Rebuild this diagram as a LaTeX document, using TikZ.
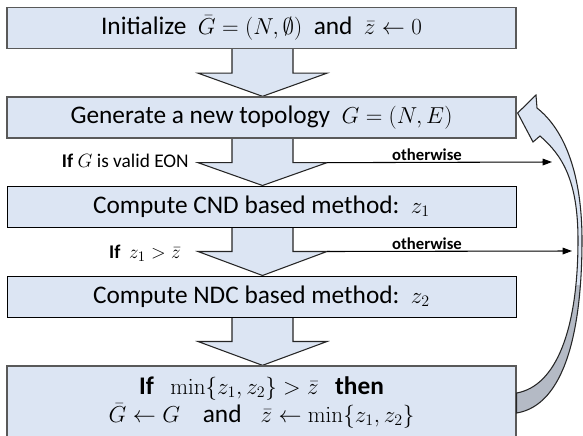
\documentclass[tikz,border=0pt]{standalone}
\usepackage[no-math]{fontspec}
\setmainfont{Carlito}
\usetikzlibrary{arrows.meta,calc,backgrounds}
\DeclareMathSizes{19}{17.8}{13}{10}
\DeclareMathSizes{14.5}{14.5}{11}{9}
\definecolor{boxfill}{RGB}{220,229,243}
\definecolor{tailgray}{RGB}{180,186,197}
\begin{document}
\begin{tikzpicture}[x=0.75pt,y=-0.75pt,
  box/.style={draw=black!65, line width=1pt, fill=boxfill, minimum width=381.75pt,
    minimum height=30.75pt, inner sep=0pt, font=\fontsize{19}{22}\selectfont},
  darkbox/.style={box, draw=black, line width=0.75pt},
  barrow/.style={draw=black!85, line width=0.8pt, fill=boxfill, line join=miter},
  cond/.style={font=\fontsize{14.5}{16}\selectfont, anchor=east, inner sep=0pt},
  oth/.style={font=\bfseries\fontsize{12.5}{14}\selectfont, anchor=south, inner sep=0.6pt},
  thinarrow/.style={line width=0.8pt, -{Triangle[length=7pt,width=5pt]}},
  bandline/.style={draw=black!85, line width=0.8pt, line join=miter}]
\useasboundingbox (0,0) rectangle (583,436);
\clip (0,0) rectangle (583,436);

% boxes
\node[box] (b1) at (261.5,28) {Initialize\ \ $\bar G=(N,\emptyset)$\ \ and\ \ $\bar z\leftarrow 0$};
\node[box] (b2) at (261.5,117.5) {Generate a new topology\ \ $G=(N,E)$};
\node[darkbox] (b3) at (261.5,206.5) {Compute CND based method:\ \ $z_1$};
\node[darkbox] (b4) at (261.5,296.5) {Compute NDC based method:\ \ $z_2$};
\node[box, minimum height=60pt] (b5) at (261.5,406) {};
\node[font=\fontsize{19}{21}\selectfont, align=center, inner sep=0pt] (b5t) at (261.5,402)
  {\textbf{If}\hspace{0.65em}$\min\{z_1,z_2\}>\bar z$\hspace{0.65em}\textbf{then}\\
   $\bar G\leftarrow G$\hspace{0.9em}and\hspace{0.75em}$\bar z\leftarrow\min\{z_1,z_2\}$};

% block arrows
\begin{scope}[on background layer]
\foreach \a/\b in {b1/b2,b2/b3,b3/b4,b4/b5} {
  \draw[barrow] ($(\a.south)+(-29.5,0)$) -- ++(0,24) -- ++(-34,0)
     -- ($(\b.north)+(1,0)$) -- ($(\a.south)+(65.5,24)$) -- ++(-34,0)
     -- ($(\a.south)+(31.5,0)$);
}
\end{scope}

% condition labels
\node[cond] (c1) at (189,161) {\textbf{If} $G$ is valid EON};
\node[cond] (c2) at (181,253) {\textbf{If}\ \ $z_1>\bar z$};

% otherwise arrows
\coordinate (o1s) at ($(b2.south)+(65.5,24)$);
\coordinate (o1e) at (552,162);
\coordinate (o2s) at ($(b3.south)+(65.5,24)$);
\coordinate (o2e) at (572,251);
\draw[thinarrow] (o1s) -- (o1e);
\draw[thinarrow] (o2s) -- (o2e);
\node[oth] (w1) at (427,162) {otherwise};
\node[oth] (w2) at (427,251) {otherwise};

% curved return arrow from b5 to b2
\coordinate (T) at ($(b2.east)+(1,-4.5)$);
\coordinate (TO) at ($(b5.east)+(0,7)$);
\coordinate (TI) at ($(b5.east)+(0,-13)$);
\def\band{(T) -- (536,95) -- (537,108)
   .. controls (565,130) and (582,175) .. (582,240)
   .. controls (582,330) and (565,405) .. (TO)
   -- (TI)
   .. controls (556,386) and (578,330) .. (578,240)
   .. controls (578,180) and (562,155) .. (540,136)
   -- (533,142) -- cycle}
\fill[boxfill] \band;
\begin{scope}
  \clip (500,285) rectangle (590,440);
  \fill[tailgray] \band;
\end{scope}
\draw[bandline] \band;
\end{tikzpicture}
\end{document}
